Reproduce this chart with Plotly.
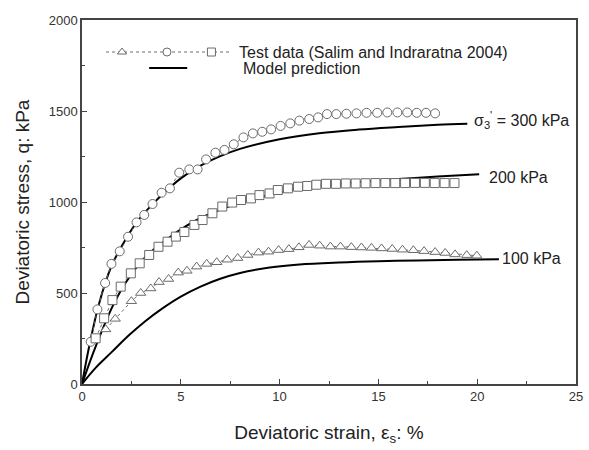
import plotly.graph_objects as go

# ---------------- data ----------------
strain_300 = [0.44, 0.78, 1.17, 1.49, 1.91, 2.33, 2.76, 3.15, 3.57, 4.03, 4.45, 4.92, 5.43, 5.85,
              6.28, 6.75, 7.21, 7.68, 8.17, 8.65, 9.12, 9.57, 10.05, 10.54, 11.0, 11.5, 11.95,
              12.4, 12.87, 13.38, 13.89, 14.4, 14.94, 15.45, 15.96, 16.46, 16.94, 17.41, 17.87]
q_300 = [232, 410, 555, 660, 729, 809, 888, 929, 989, 1051, 1075, 1161, 1179, 1179,
         1234, 1271, 1286, 1317, 1355, 1377, 1386, 1399, 1418, 1432, 1447, 1456, 1465,
         1483, 1483, 1485, 1487, 1490, 1490, 1492, 1492, 1492, 1490, 1490, 1487]

strain_200 = [0.69, 1.12, 1.54, 1.96, 2.47, 2.92, 3.4, 3.87, 4.33, 4.75, 5.18, 5.69, 6.1, 6.6,
              7.1, 7.6, 8.05, 8.55, 8.98, 9.49, 9.91, 10.42, 10.93, 11.4, 11.86, 12.35, 12.85,
              13.35, 13.85, 14.35, 14.85, 15.35, 15.85, 16.35, 16.85, 17.35, 17.85, 18.35, 18.85]
q_200 = [251, 361, 461, 535, 608, 663, 709, 754, 782, 810, 835, 874, 901, 938,
         975, 997, 1011, 1020, 1038, 1047, 1066, 1075, 1084, 1088, 1095, 1100, 1100,
         1102, 1102, 1103, 1104, 1104, 1104, 1104, 1105, 1105, 1104, 1104, 1104]

strain_100 = [1.2, 1.68, 2.5, 2.97, 3.48, 3.9, 4.38, 4.87, 5.31, 5.8, 6.31, 6.82, 7.35, 7.88,
              8.39, 8.93, 9.44, 9.95, 10.47, 10.98, 11.49, 12.03, 12.57, 13.08, 13.63, 14.14,
              14.65, 15.16, 15.7, 16.22, 16.77, 17.31, 17.87, 18.38, 18.88, 19.47, 19.98]
q_100 = [300, 358, 455, 500, 525, 560, 577, 612, 622, 645, 660, 669, 683, 692,
         709, 722, 727, 736, 741, 751, 764, 760, 755, 755, 752, 750,
         748, 745, 742, 738, 735, 730, 725, 720, 712, 708, 705]

model_strain_300 = [0, 0.36, 0.86, 1.5, 2.0, 2.8, 3.5, 4.2, 5.0, 6.0, 7.0, 8.0, 10.0, 12.0, 14.0, 16.0, 18.0, 19.5]
model_q_300 = [0, 205, 440, 650, 755, 893, 980, 1055, 1130, 1200, 1252, 1292, 1345, 1378, 1398, 1412, 1424, 1430]

model_strain_200 = [0, 0.69, 1.54, 2.2, 3.22, 4.42, 5.0, 6.0, 7.0, 8.0, 9.5, 11.0, 12.0, 14.0, 16.0, 18.0, 20.1]
model_q_200 = [0, 205, 425, 555, 700, 805, 850, 912, 958, 995, 1040, 1073, 1090, 1110, 1126, 1140, 1152]

model_strain_100 = [0, 0.7, 1.5, 2.4, 3.2, 4.0, 5.0, 6.0, 7.0, 8.0, 9.5, 11.0, 13.0, 15.0, 17.0, 19.0, 21.1]
model_q_100 = [0, 90, 175, 270, 345, 410, 480, 535, 578, 610, 640, 657, 668, 675, 679, 683, 686]

curve_labels = ["σ<sub>3</sub><sup>'</sup> = 300 kPa", "200 kPa", "100 kPa"]
label_x = [19.75, 20.5, 21.17]
label_y = [1450, 1132, 692]

x_ticks = [0, 5, 10, 15, 20, 25]
y_ticks = [0, 500, 1000, 1500, 2000]

GRAY = "#6a6a6a"
FONT = "Liberation Sans, Arial, sans-serif"

fig = go.Figure()

def data_trace(x, y, sym):
    return go.Scatter(x=x, y=y, mode="lines+markers",
                      line=dict(color=GRAY, width=1, dash="3px,3px"),
                      marker=dict(symbol=sym, size=9, color="white",
                                  line=dict(color=GRAY, width=1)),
                      showlegend=False, cliponaxis=False)

def model_trace(x, y):
    return go.Scatter(x=x, y=y, mode="lines",
                      line=dict(color="black", width=2, shape="spline", smoothing=1.0),
                      showlegend=False)

fig.add_trace(model_trace(model_strain_300, model_q_300))
fig.add_trace(model_trace(model_strain_200, model_q_200))
fig.add_trace(model_trace(model_strain_100, model_q_100))
fig.add_trace(data_trace(strain_300, q_300, "circle"))
fig.add_trace(data_trace(strain_200, q_200, "square"))
fig.add_trace(data_trace(strain_100, q_100, "triangle-up"))

# legend glyphs on an overlay axis (0..1 of the plot area)
fig.add_trace(go.Scatter(x=[0.0487, 0.298], y=[0.912, 0.912], mode="lines",
                         line=dict(color=GRAY, width=1, dash="3px,3px"),
                         xaxis="x2", yaxis="y2", showlegend=False, hoverinfo="skip"))
fig.add_trace(go.Scatter(x=[0.081, 0.172, 0.262], y=[0.912] * 3, mode="markers",
                         marker=dict(symbol=["triangle-up", "circle", "square"],
                                     size=8, color="white", line=dict(color=GRAY, width=1)),
                         xaxis="x2", yaxis="y2", showlegend=False, hoverinfo="skip"))
fig.add_trace(go.Scatter(x=[0.136, 0.213], y=[0.868, 0.868], mode="lines",
                         line=dict(color="black", width=2),
                         xaxis="x2", yaxis="y2", showlegend=False, hoverinfo="skip"))

annotations = [
    dict(x=0.314, y=0.912, xref="paper", yref="paper", xanchor="left", yanchor="middle",
         text="Test data (Salim and Indraratna 2004)", showarrow=False,
         font=dict(family=FONT, size=16, color="#222")),
    dict(x=0.3225, y=0.868, xref="paper", yref="paper", xanchor="left", yanchor="middle",
         text="Model prediction", showarrow=False,
         font=dict(family=FONT, size=16, color="#222")),
]
for t, lx, ly in zip(curve_labels, label_x, label_y):
    annotations.append(dict(x=lx, y=ly, xref="x", yref="y", xanchor="left", yanchor="middle",
                            text=t, showarrow=False, font=dict(family=FONT, size=16, color="#222")))

axis_common = dict(showline=True, linecolor="#444", linewidth=1.5, mirror=True,
                   ticks="inside", ticklen=5, tickwidth=1.2, tickcolor="#444",
                   showgrid=False, zeroline=False, automargin=False,
                   tickfont=dict(family=FONT, size=13, color="#333"))

fig.update_layout(
    width=589, height=450,
    margin=dict(l=82, r=13, t=20, b=66),
    paper_bgcolor="white", plot_bgcolor="white",
    xaxis=dict(range=[0, 25], tickvals=x_ticks,
               minor=dict(ticks="inside", ticklen=3, dtick=2.5, tickcolor="#444"),
               title=dict(text="Deviatoric strain, ε<sub>s</sub>: %", standoff=22,
                          font=dict(family=FONT, size=19, color="#222")),
               **axis_common),
    yaxis=dict(range=[0, 2000], tickvals=y_ticks,
               minor=dict(ticks="inside", ticklen=3, dtick=250, tickcolor="#444"),
               title=dict(text="Deviatoric stress, q: kPa", standoff=14,
                          font=dict(family=FONT, size=19, color="#222")),
               **axis_common),
    xaxis2=dict(range=[0, 1], overlaying="x", visible=False, fixedrange=True),
    yaxis2=dict(range=[0, 1], overlaying="y", visible=False, fixedrange=True),
    annotations=annotations,
    showlegend=False,
)

fig.write_html("out.html")
